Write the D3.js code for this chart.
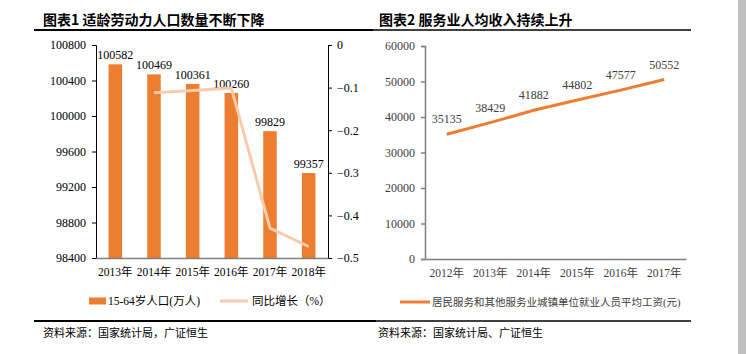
<!DOCTYPE html>
<html>
<head>
<meta charset="utf-8">
<script src="https://cdn.jsdelivr.net/npm/d3@7"></script>
<style>
  body { margin: 0; background: #fff; }
  svg { display: block; }
  .serif { font-family: "Liberation Serif", "Noto Sans CJK SC", serif; }
</style>
</head>
<body>
<div id="chart"></div>
<script>
// ---------- data ----------
const years1 = ['2013年', '2014年', '2015年', '2016年', '2017年', '2018年'];
const population = [100582, 100469, 100361, 100260, 99829, 99357];
const growth = [null, -0.112, -0.107, -0.101, -0.430, -0.473];
const popTicks = [98400, 98800, 99200, 99600, 100000, 100400, 100800];
const growthTicks = [0, -0.1, -0.2, -0.3, -0.4, -0.5];

const years2 = ['2012年', '2013年', '2014年', '2015年', '2016年', '2017年'];
const wages = [35135, 38429, 41882, 44802, 47577, 50552];
const wageTicks = [0, 10000, 20000, 30000, 40000, 50000, 60000];

const ORANGE = '#ed7d31',
      PEACH = '#f8cbad';

const width = 746, height = 354;

const svg = d3.select('#chart')
  .append('svg')
  .attr('width', width)
  .attr('height', height);

// page decorations
svg.append('rect')
  .attr('x', 738).attr('y', 0)
  .attr('width', 8).attr('height', height)
  .attr('fill', '#c0c0c0');

svg.append('line')
  .attr('x1', 34).attr('x2', 373).attr('y1', 30).attr('y2', 30)
  .attr('stroke', '#000').attr('stroke-width', 2);
svg.append('line')
  .attr('x1', 373).attr('x2', 691).attr('y1', 30).attr('y2', 30)
  .attr('stroke', '#000').attr('stroke-width', 1.5);
svg.append('line')
  .attr('x1', 34).attr('x2', 376).attr('y1', 321).attr('y2', 321)
  .attr('stroke', '#000').attr('stroke-width', 2);
svg.append('line')
  .attr('x1', 376).attr('x2', 691).attr('y1', 321).attr('y2', 321)
  .attr('stroke', '#000').attr('stroke-width', 1.5);

// titles
svg.append('text')
  .attr('x', 43).attr('y', 25)
  .style('font-family', '"Noto Sans CJK SC", sans-serif')
  .style('font-weight', 'bold')
  .style('font-size', '14px')
  .text('图表1 适龄劳动力人口数量不断下降');

svg.append('text')
  .attr('x', 379).attr('y', 25)
  .style('font-family', '"Noto Sans CJK SC", sans-serif')
  .style('font-weight', 'bold')
  .style('font-size', '14px')
  .text('图表2 服务业人均收入持续上升');

// sources
svg.append('text')
  .attr('x', 43).attr('y', 337)
  .style('font-family', '"Noto Sans CJK SC", sans-serif')
  .style('font-size', '11px')
  .text('资料来源：国家统计局，广证恒生');

svg.append('text')
  .attr('x', 378).attr('y', 337)
  .style('font-family', '"Noto Sans CJK SC", sans-serif')
  .style('font-size', '11px')
  .text('资料来源：国家统计局、广证恒生');

// ----------------------------------
// CHART 1: bars + line
// ----------------------------------
const x1 = d3.scaleBand()
  .domain(years1)
  .range([96, 328])
  .paddingInner(0.65)
  .paddingOuter(0.325);

const y1 = d3.scaleLinear()
  .domain([98400, 100800])
  .range([258, 45]);

const y1r = d3.scaleLinear()
  .domain([-0.5, 0])
  .range([258, 45]);

const c1 = svg.append('g').attr('class', 'serif');

c1.selectAll('rect.bar')
  .data(population)
  .enter()
  .append('rect')
  .attr('class', 'bar')
  .attr('x', (d, i) => x1(years1[i]))
  .attr('y', d => y1(d))
  .attr('width', x1.bandwidth())
  .attr('height', d => y1(98400) - y1(d))
  .attr('fill', ORANGE);

c1.selectAll('text.val')
  .data(population)
  .enter()
  .append('text')
  .attr('class', 'val')
  .attr('x', (d, i) => x1(years1[i]) + x1.bandwidth() / 2)
  .attr('y', d => y1(d) - 5)
  .attr('text-anchor', 'middle')
  .style('font-size', '12px')
  .text(d => d);

const line1 = d3.line()
  .defined(d => d !== null)
  .x((d, i) => x1(years1[i]) + x1.bandwidth() / 2)
  .y(d => y1r(d));

c1.append('path')
  .datum(growth)
  .attr('d', line1)
  .attr('fill', 'none')
  .attr('stroke', PEACH)
  .attr('stroke-width', 3);

// axes
const axL = c1.append('g')
  .attr('transform', 'translate(96,0)')
  .call(d3.axisLeft(y1).tickValues(popTicks).tickSize(4).tickPadding(6).tickFormat(d3.format('d')));
const axR = c1.append('g')
  .attr('transform', 'translate(328,0)')
  .call(d3.axisRight(y1r).tickValues(growthTicks).tickSize(4).tickPadding(5).tickFormat(d => d === 0 ? '0' : d3.format('.1f')(d)));
const axB = c1.append('g')
  .attr('transform', 'translate(0,258)')
  .call(d3.axisBottom(x1).tickSize(0).tickPadding(10).tickSizeOuter(0));

[axL, axR].forEach(a => {
  a.selectAll('text').style('font-family', '"Liberation Serif", serif').style('font-size', '12px').attr('fill', '#000');
  a.selectAll('path, line').attr('stroke', '#000');
});
axB.selectAll('text').style('font-family', '"Liberation Serif", "Noto Sans CJK SC", serif').style('font-size', '11.5px').attr('fill', '#000');
axB.select('.domain').attr('stroke', '#7f7f7f').attr('stroke-width', 1.5);

// legend 1
const leg1 = svg.append('g').style('font-family', '"Liberation Serif", "Noto Sans CJK SC", serif').style('font-size', '11.5px');
leg1.append('rect')
  .attr('x', 89).attr('y', 297.5).attr('width', 17).attr('height', 7)
  .attr('fill', ORANGE);
leg1.append('text')
  .attr('x', 108).attr('y', 305)
  .text('15-64岁人口(万人)');
leg1.append('line')
  .attr('x1', 220).attr('x2', 248).attr('y1', 301).attr('y2', 301)
  .attr('stroke', PEACH).attr('stroke-width', 3);
leg1.append('text')
  .attr('x', 252).attr('y', 305)
  .text('同比增长（%）');

// ----------------------------------
// CHART 2: line
// ----------------------------------
const x2 = d3.scaleBand()
  .domain(years2)
  .range([425, 686]);

const y2 = d3.scaleLinear()
  .domain([0, 60000])
  .range([259, 46]);

const c2 = svg.append('g');

const line2 = d3.line()
  .x((d, i) => x2(years2[i]) + x2.bandwidth() / 2)
  .y(d => y2(d));

c2.append('path')
  .datum(wages)
  .attr('d', line2)
  .attr('fill', 'none')
  .attr('stroke', ORANGE)
  .attr('stroke-width', 3);

c2.selectAll('text.val')
  .data(wages)
  .enter()
  .append('text')
  .attr('class', 'val')
  .attr('x', (d, i) => x2(years2[i]) + x2.bandwidth() / 2)
  .attr('y', d => y2(d) - 11)
  .attr('text-anchor', 'middle')
  .style('font-family', '"Liberation Serif", serif')
  .style('font-size', '12px')
  .attr('fill', '#404040')
  .text(d => d);

const ax2L = c2.append('g')
  .attr('transform', 'translate(425,0)')
  .call(d3.axisLeft(y2).tickValues(wageTicks).tickSize(4).tickPadding(6).tickFormat(d3.format('d')));
const ax2B = c2.append('g')
  .attr('transform', 'translate(0,259)')
  .call(d3.axisBottom(x2).tickSize(0).tickPadding(10).tickSizeOuter(0));

ax2L.selectAll('text').style('font-family', '"Liberation Serif", serif').style('font-size', '12px').attr('fill', '#404040');
ax2L.selectAll('path, line').attr('stroke', '#7f7f7f').attr('stroke-width', 1.5);
ax2B.selectAll('text').style('font-family', '"Liberation Serif", "Noto Sans CJK SC", serif').style('font-size', '11.5px').attr('fill', '#404040');
ax2B.select('.domain').attr('stroke', '#7f7f7f').attr('stroke-width', 1.5);

// legend 2
const leg2 = svg.append('g').style('font-family', '"Liberation Serif", "Noto Sans CJK SC", serif').style('font-size', '10.5px');
leg2.append('line')
  .attr('x1', 400).attr('x2', 430).attr('y1', 302).attr('y2', 302)
  .attr('stroke', ORANGE).attr('stroke-width', 3);
leg2.append('text')
  .attr('x', 432).attr('y', 306)
  .attr('fill', '#404040')
  .text('居民服务和其他服务业城镇单位就业人员平均工资(元)');
</script>
</body>
</html>
